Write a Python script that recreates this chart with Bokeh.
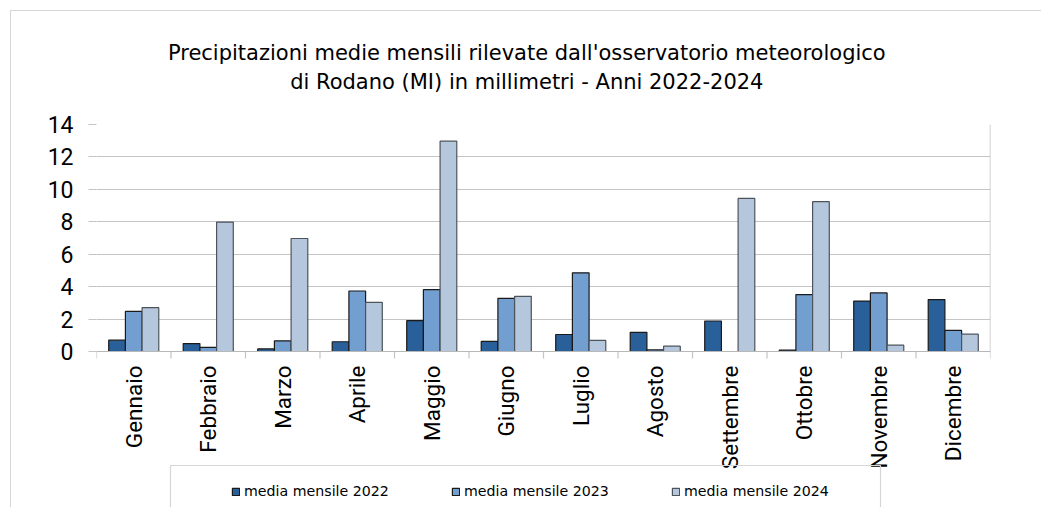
import math
from bokeh.plotting import figure
from bokeh.models import (Range1d, FixedTicker, Title, Legend, LegendItem, Span,
                          BoxAnnotation, ColumnDataSource)
from bokeh.core.properties import value
from bokeh.transform import dodge
from bokeh.embed import file_html
from bokeh.resources import INLINE

months = ["Gennaio", "Febbraio", "Marzo", "Aprile", "Maggio", "Giugno",
          "Luglio", "Agosto", "Settembre", "Ottobre", "Novembre", "Dicembre"]
media_2022 = [0.70, 0.49, 0.16, 0.60, 1.90, 0.62, 1.05, 1.18, 1.88, 0.08, 3.11, 3.20]
media_2023 = [2.47, 0.25, 0.66, 3.73, 3.81, 3.28, 4.85, 0.10, float("nan"), 3.51, 3.61, 1.30]
media_2024 = [2.70, 7.98, 6.97, 3.03, 12.97, 3.40, 0.68, 0.33, 9.44, 9.24, 0.39, 1.07]
series_labels = ["media mensile 2022", "media mensile 2023", "media mensile 2024"]
y_ticks = [0, 2, 4, 6, 8, 10, 12, 14]
title_lines = ["Precipitazioni medie mensili rilevate dall'osservatorio meteorologico",
               "di Rodano (MI) in millimetri - Anni 2022-2024"]

NUM_FONT = "Roboto"
TXT_FONT = "DejaVu Sans"
colors = ["#2a6099", "#729fcf", "#b4c7dc"]
outlines = ["#1a1a1a", "#1a1a1a", "#4d535a"]
GRID = "#c4c4c4"
FRAME = "#d6d6d6"

# layout (pixels)
W, H = 1031, 497
TOP, LEFT, RIGHT = 113, 85, 52
PLOT_H = 227                      # height of the 0..14 value area
PLOT_W = W - LEFT - RIGHT
Y_MAX = y_ticks[-1]
px_per_unit = PLOT_H / Y_MAX
px_per_cat = PLOT_W / len(months)
y_min = -(H - TOP - PLOT_H) / px_per_unit   # room under the axis for labels and legend
tick_len = 7 / px_per_unit
label_gap = 14 / px_per_unit
# legend frame, in pixels from the value area's bottom-left corner
LEG_LEFT, LEG_RIGHT, LEG_TOP = 74, 784, 114

centers = [i + 0.5 for i in range(len(months))]
bounds = [float(i) for i in range(len(months) + 1)]
src = ColumnDataSource(dict(x=centers, a=media_2022, b=media_2023, c=media_2024))

p = figure(width=W, height=H, output_backend="svg", toolbar_location=None,
           x_range=Range1d(0, len(months)), y_range=Range1d(y_min, Y_MAX),
           x_axis_location=None,
           min_border_left=LEFT, min_border_right=RIGHT, min_border_top=TOP, min_border_bottom=0)
p.styles = {"margin-left": "10px", "margin-top": "10px",
            "border-left": "1px solid " + FRAME, "border-top": "1px solid " + FRAME}
p.outline_line_color = None
p.background_fill_color = "white"
p.border_fill_color = "white"

# grid
p.xgrid.visible = False
p.ygrid.grid_line_color = GRID
p.ygrid.grid_line_width = 1.2
p.ygrid.ticker = FixedTicker(ticks=y_ticks)

# category axis drawn in the plot area: axis line, boundary ticks, right edge, labels
p.add_layout(Span(location=0, dimension="width", line_color="#b8b8b8", line_width=1.2))
p.segment(x0=bounds, y0=[0] * len(bounds), x1=bounds, y1=[-tick_len] * len(bounds),
          line_color=GRID, line_width=1.2)
p.segment(x0=[bounds[-1]], y0=[0], x1=[bounds[-1]], y1=[Y_MAX], line_color=GRID, line_width=1.5)
p.text(x=centers, y=[-label_gap] * len(centers), text=months, angle=math.pi / 2,
       text_align="right", text_baseline="middle", text_color="#000000",
       text_font=value(NUM_FONT), text_font_size=value("22.5px"))

bw = 0.224
renderers = []
for col, off, c, oc in zip(["a", "b", "c"], [-bw, 0.0, bw], colors, outlines):
    r = p.vbar(x=dodge("x", off, range=p.x_range), top=col, bottom=0, width=bw,
               source=src, fill_color=c, line_color=oc, line_width=1.2)
    renderers.append(r)

p.yaxis.ticker = FixedTicker(ticks=y_ticks)
p.yaxis.axis_line_color = None
p.yaxis.major_tick_out = 8
p.yaxis.major_tick_in = 0
p.yaxis.major_tick_line_color = GRID
p.yaxis.minor_tick_line_color = None
p.yaxis.major_label_text_font = NUM_FONT
p.yaxis.major_label_text_font_size = "23px"
p.yaxis.major_label_text_color = "#000000"
p.yaxis.major_label_standoff = 15

# title: a small spacer next to the frame, then line 2, then line 1 on top
pad = "\u00a0" * 5
def title(text, size, standoff):
    return Title(text=text, align="center", text_font=TXT_FONT, text_font_size=size,
                 text_font_style="normal", text_color="#000000", standoff=standoff)
p.add_layout(title("\u00a0", "2px", 23.5), "above")
p.add_layout(title(title_lines[1] + pad, "21px", 6), "above")
p.add_layout(title(title_lines[0] + pad, "21px", 0), "above")

# legend frame (runs off the bottom edge, as in the original) and legend entries
p.add_layout(BoxAnnotation(left=LEG_LEFT / px_per_cat, right=LEG_RIGHT / px_per_cat,
                           top=-LEG_TOP / px_per_unit, bottom=y_min - 1,
                           fill_alpha=0, line_color=FRAME, line_width=1.2, line_alpha=1))
legend = Legend(items=[LegendItem(label=l, renderers=[r]) for l, r in zip(series_labels, renderers)],
                orientation="horizontal", location=(135, 7),
                border_line_color=None, background_fill_alpha=0,
                padding=0, margin=0, spacing=22,
                glyph_width=9, glyph_height=9, label_standoff=4, label_width=185, label_height=20,
                label_text_font=TXT_FONT, label_text_font_size="14.2px", label_text_color="#000000")
p.add_layout(legend)

open("out.html", "w").write(file_html(p, INLINE))
